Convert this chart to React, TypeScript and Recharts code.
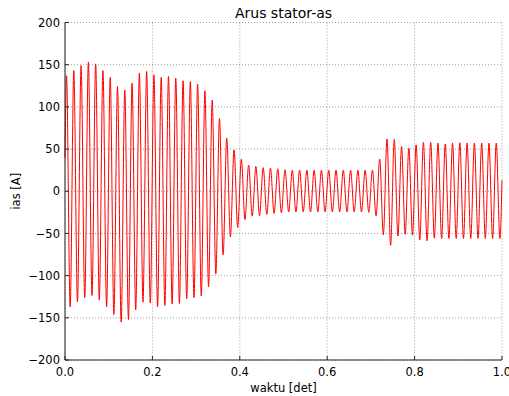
import React from "react";
import { LineChart, Line, XAxis, YAxis, CartesianGrid } from "recharts";

// Positive peak of each 60 Hz cycle (A)
const peaks = [
  137, 143, 149, 153, 151, 143, 135, 124, 120, 128,
  140, 142, 138, 135, 136, 134, 131, 130, 127, 119,
  108, 86, 63, 49, 38, 31, 29.5, 28, 27.4, 26.6,
  25.5, 25, 25, 25, 25, 25, 25, 25, 25, 25,
  25, 25, 25, 38, 62, 61.5, 53, 51, 55, 58,
  58, 57, 56, 57, 57.5, 57, 57, 57, 57, 57,
];
// Negative peak following each positive peak (A)
const troughs = [
  -137, -131, -126, -123.5, -129, -137, -146, -155, -152, -140.5,
  -131.5, -132.5, -137, -135.4, -133.5, -133, -127.5, -126, -124, -113,
  -98, -75.5, -54, -43, -33.5, -29.5, -29, -27.5, -26.3, -25.5,
  -24.5, -24.5, -24.5, -24.5, -24.5, -24.5, -24.5, -24.5, -24.5, -24.5,
  -24.5, -25, -29, -51.7, -64, -53, -51, -52, -57.6, -58.8,
  -55.6, -56, -56, -56, -56, -56, -56, -56, -56, -56,
];
const startValue = 40; // at t = 0
const endValue = 13; // at t = 1
const firstPeakTime = 0.0035; // s
const frequency = 60; // Hz

const xTicks = [0, 0.2, 0.4, 0.6, 0.8, 1.0];
const yTicks = [-200, -150, -100, -50, 0, 50, 100, 150, 200];

const data: { t: number; ias: number }[] = [{ t: 0, ias: startValue }];
peaks.forEach((p, k) => {
  data.push({ t: firstPeakTime + k / frequency, ias: p });
  data.push({ t: firstPeakTime + (k + 0.5) / frequency, ias: troughs[k] });
});
data.push({ t: 1, ias: endValue });

const FONT = "'DejaVu Sans', sans-serif";
const fmtY = (v: number) => (v < 0 ? "\u2212" + Math.abs(v) : String(v));

export default function App() {
  return (
    <div style={{ position: "absolute", left: 0, top: 0, width: 509, height: 396, background: "#fff" }}>
      <LineChart
        width={509}
        height={396}
        data={data}
        margin={{ top: 22.5, right: 7, bottom: 0, left: 0 }}
        style={{ fontFamily: FONT }}
      >
        <CartesianGrid
          stroke="#000"
          strokeOpacity={0.55}
          strokeWidth={0.7}
          strokeDasharray="1 2"
          xAxisId="b"
          yAxisId="l"
        />
        <XAxis
          xAxisId="b"
          dataKey="t"
          type="number"
          domain={[0, 1]}
          ticks={xTicks}
          tickFormatter={(v: number) => v.toFixed(1)}
          height={36}
          tickSize={-4}
          tickMargin={11.5}
          stroke="#222"
          tick={{ fill: "#000", fontSize: 11.5, fontFamily: FONT }}
          tickLine={{ stroke: "#222" }}
          axisLine={{ stroke: "#222" }}
          label={{ value: "waktu [det]", position: "center", dy: 9.5, fill: "#000", fontSize: 11.5, fontFamily: FONT }}
        />
        <XAxis
          xAxisId="t"
          orientation="top"
          dataKey="t"
          type="number"
          domain={[0, 1]}
          ticks={xTicks}
          height={0}
          tickSize={-4}
          tick={false}
          stroke="#222"
          tickLine={{ stroke: "#222" }}
          axisLine={{ stroke: "#222" }}
        />
        <YAxis
          yAxisId="l"
          type="number"
          domain={[-200, 200]}
          ticks={yTicks}
          tickFormatter={fmtY}
          width={65}
          tickSize={-4}
          tickMargin={9}
          stroke="#222"
          tick={{ fill: "#000", fontSize: 11.5, fontFamily: FONT }}
          tickLine={{ stroke: "#222" }}
          axisLine={{ stroke: "#222" }}
          label={{ value: "ias [A]", angle: -90, position: "center", dx: -16.5, fill: "#000", fontSize: 11.5, fontFamily: FONT }}
        />
        <YAxis
          yAxisId="r"
          orientation="right"
          type="number"
          domain={[-200, 200]}
          ticks={yTicks}
          width={0}
          tickSize={-4}
          tick={false}
          stroke="#222"
          tickLine={{ stroke: "#222" }}
          axisLine={{ stroke: "#222" }}
        />
        <Line
          xAxisId="t"
          yAxisId="r"
          dataKey="ias"
          type="monotone"
          stroke="none"
          dot={false}
          activeDot={false}
          isAnimationActive={false}
        />
        <Line
          xAxisId="b"
          yAxisId="l"
          dataKey="ias"
          type="monotone"
          stroke="#ff0000"
          strokeWidth={1}
          dot={false}
          activeDot={false}
          isAnimationActive={false}
        />
        <text x={283.5} y={18.3} textAnchor="middle" fontSize={14} fontFamily={FONT} fill="#000">
          Arus stator-as
        </text>
      </LineChart>
    </div>
  );
}
